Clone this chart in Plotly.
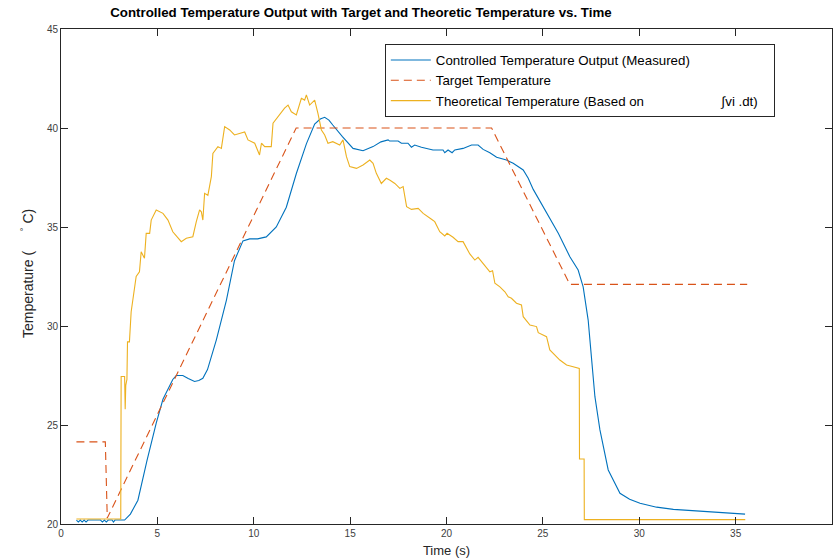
import plotly.graph_objects as go

# ---------------- data ----------------
meas_t = [0.8, 0.9, 1.0, 1.1, 1.2, 1.3, 1.4, 2.05, 2.15, 2.25, 2.35, 2.45, 2.65, 2.72, 2.8, 3.3,
          3.6, 3.99, 4.46, 4.94, 5.29, 5.8, 5.98, 6.32, 6.6, 6.93, 7.15, 7.36, 7.6, 8.06, 8.58, 9.0,
          9.44, 9.79, 10.2, 10.65, 11.17, 11.69, 12.21, 12.73, 13.16, 13.45, 13.68, 13.9, 14.1,
          14.6, 15.15, 15.67, 16.19, 16.6, 16.97, 17.05, 17.49, 17.66, 18.0, 18.18, 18.35, 18.7,
          19.3, 19.82, 19.91, 20.08, 20.29, 20.43, 20.86, 21.3, 21.64, 21.9, 22.25, 22.6, 23.11,
          23.46, 23.98, 24.24, 24.5, 25.1, 25.8, 26.4, 26.83, 27.09, 27.35, 27.44, 27.7, 27.96,
          28.39, 29.0, 29.5, 30.04, 30.9, 31.77, 32.6, 33.5, 34.5, 35.49]
meas_y = [20.2, 20.1, 20.2, 20.1, 20.2, 20.1, 20.2, 20.2, 20.1, 20.2, 20.1, 20.2, 20.2, 20.1, 20.2, 20.2,
          20.5, 21.2, 23.2, 25.1, 26.3, 27.3, 27.5, 27.5, 27.35, 27.2, 27.25, 27.36, 27.8, 29.3, 31.3, 33.3,
          34.3, 34.4, 34.4, 34.5, 35.0, 36.0, 37.7, 39.2, 40.2, 40.45, 40.54, 40.4, 40.15,
          39.56, 38.97, 38.85, 39.06, 39.3, 39.4, 39.34, 39.34, 39.23, 39.23, 39.03, 39.14, 39.03,
          38.89, 38.89, 38.75, 38.89, 38.75, 38.89, 38.97, 39.14, 39.14, 38.92, 38.75, 38.52, 38.38,
          38.22, 37.88, 37.46, 36.9, 35.86, 34.68, 33.5, 32.83, 31.98, 30.3, 29.3, 26.43, 24.75,
          22.73, 21.55, 21.25, 21.05, 20.85, 20.74, 20.68, 20.62, 20.55, 20.5]

target_t = [0.8, 2.3, 2.4, 12.2, 22.34, 26.4, 35.6]
target_y = [24.15, 24.15, 20.3, 40.0, 40.0, 32.1, 32.1]

theo_t = [0.8, 3.1, 3.12, 3.3, 3.33, 3.36, 3.42, 3.45, 3.55, 3.64, 3.9, 4.07, 4.16, 4.33, 4.42, 4.6,
          4.68, 4.94, 5.29, 5.55, 5.8, 6.24, 6.5, 6.84, 7.02, 7.19, 7.28, 7.36, 7.45, 7.62, 7.8,
          7.88, 8.14, 8.32, 8.49, 8.75, 9.0, 9.27, 9.53, 9.7, 10.05, 10.3, 10.4, 10.57, 10.91, 11.0,
          11.26, 11.43, 11.6, 11.78, 11.95, 12.21, 12.47, 12.64, 12.73, 12.9, 13.16, 13.33, 13.51,
          13.68, 13.85, 14.1, 14.46, 14.63, 14.81, 14.98, 15.33, 15.67, 16.02, 16.19, 16.36, 16.62,
          16.88, 17.05, 17.32, 17.58, 17.75, 17.93, 18.18, 18.53, 18.79, 19.22, 19.39, 19.65, 19.91,
          20.03, 20.34, 20.6, 20.86, 21.21, 21.47, 21.64, 21.99, 22.25, 22.39, 22.51, 22.77, 23.03,
          23.2, 23.37, 23.63, 23.89, 23.98, 24.33, 24.67, 24.76, 25.19, 25.36, 25.88, 26.23, 26.57,
          26.89, 26.9, 27.14, 27.15, 35.5]
theo_y = [20.25, 20.25, 27.45, 27.45, 25.8, 27.0, 27.3, 29.2, 29.2, 30.72, 32.5, 32.74, 33.75, 33.42, 34.68, 34.68,
          35.35, 35.86, 35.69, 35.35, 34.76, 34.26, 34.43, 34.51, 35.27, 35.86, 35.77, 35.35, 36.7, 36.6, 37.54,
          38.72, 39.06, 38.97, 40.07, 39.9, 39.65, 39.73, 39.8, 39.4, 39.23, 38.64, 39.23, 39.06, 39.06, 40.24,
          40.57, 40.82, 41.0, 41.16, 40.82, 40.66, 41.5, 41.41, 41.67, 41.16, 41.41, 40.74, 39.9,
          39.65, 39.23, 39.31, 39.14, 39.4, 38.55, 38.05, 37.96, 38.13, 38.38, 38.22, 37.71, 37.2,
          37.46, 37.37, 37.2, 36.95, 37.04, 36.03, 35.89, 35.94, 35.69, 35.39, 35.27, 34.76, 34.55,
          34.68, 34.48, 34.26, 34.26, 33.64, 33.33, 33.47, 33.08, 32.74, 32.79, 32.16, 31.98, 31.73,
          31.48, 31.4, 31.15, 31.06, 30.47, 30.05, 29.97, 29.66, 29.46, 28.79, 28.28, 28.03, 27.94,
          27.86, 23.28, 23.28, 20.22, 20.22]

x_ticks = [0, 5, 10, 15, 20, 25, 30, 35, 40]
y_ticks = [20, 25, 30, 35, 40, 45]

names = ["Controlled Temperature Output (Measured)",
         "Target Temperature",
         "Theoretical Temperature (Based on" + "\u00a0" * 21 + "\u222bvi .dt)" + "\u00a0" * 3]

FONT = "Liberation Sans, Arial, Helvetica, sans-serif"

fig = go.Figure()
fig.add_trace(go.Scatter(x=meas_t, y=meas_y, mode="lines", name=names[0],
                         line=dict(color="#0072BD", width=1.1)))
fig.add_trace(go.Scatter(x=target_t, y=target_y, mode="lines", name=names[1],
                         line=dict(color="#D95319", width=1.1, dash="8px,5px")))
fig.add_trace(go.Scatter(x=theo_t, y=theo_y, mode="lines", name=names[2],
                         line=dict(color="#EDB120", width=1.1)))

axis_common = dict(showgrid=False, zeroline=False, showline=True, linecolor="#262626",
                   linewidth=1, mirror="allticks", ticks="inside", ticklen=7,
                   tickcolor="#262626", tickwidth=1,
                   tickfont=dict(family=FONT, size=10, color="#404040"))

fig.update_layout(
    width=837, height=560,
    margin=dict(l=61, r=5, t=29, b=36),
    paper_bgcolor="white", plot_bgcolor="white",
    font=dict(family=FONT, color="#262626"),
    title=dict(text="<b>Controlled Temperature Output with Target and Theoretic Temperature vs. Time</b>",
               font=dict(family=FONT, size=13.3, color="black"),
               x=0.389, xref="paper", xanchor="center", y=1 - 12 / 560, yanchor="middle"),
    xaxis=dict(range=[0, 40], tickvals=x_ticks, ticktext=[str(v) for v in x_ticks],
               title=dict(text="Time (s)", font=dict(family=FONT, size=13, color="#262626"), standoff=7),
               **axis_common),
    yaxis=dict(range=[20, 45], tickvals=y_ticks, ticktext=[str(v) for v in y_ticks], **axis_common),
    legend=dict(x=0.42, y=0.97, xanchor="left", yanchor="top",
                bgcolor="white", bordercolor="#262626", borderwidth=1, itemwidth=40,
                font=dict(family=FONT, size=13.3, color="black"), tracegroupgap=0),
    showlegend=True,
    annotations=[dict(text="Temperature (\u00a0\u00a0\u00a0\u00a0\u00a0<sup>\u00b0</sup>\u00a0C)",
                      textangle=-90, xref="paper", yref="paper",
                      x=(27 - 61) / 771, y=0.505, xanchor="center", yanchor="middle",
                      showarrow=False, font=dict(family=FONT, size=14, color="#262626"))],
)

fig.write_html("out.html")
